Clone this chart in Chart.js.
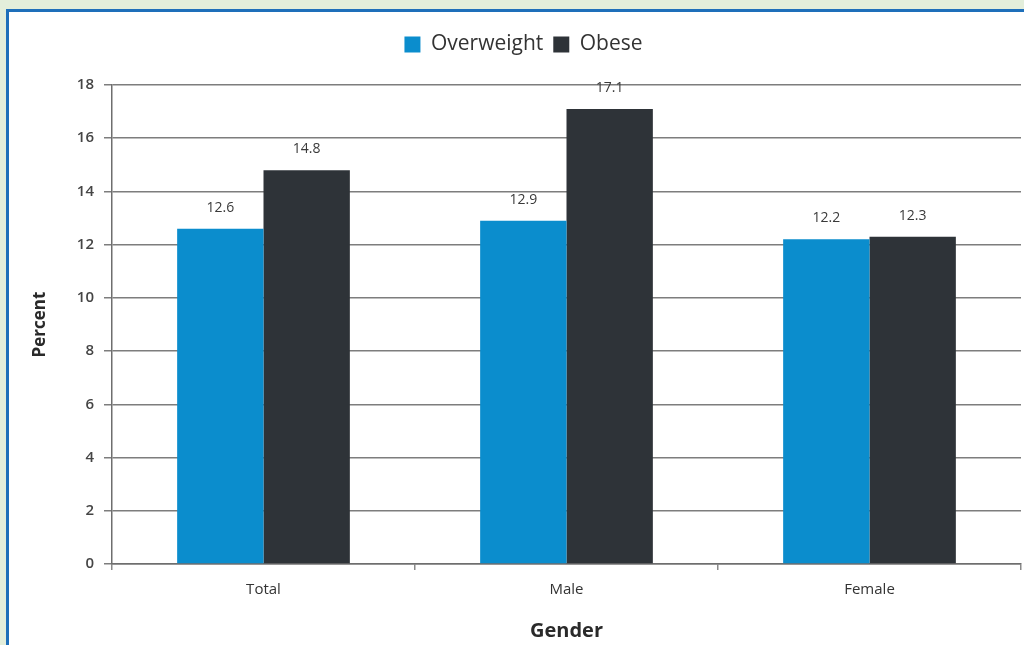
<!DOCTYPE html>
<html>
<head>
<meta charset="utf-8">
<script src="https://cdn.jsdelivr.net/npm/chart.js@4.4.1/dist/chart.umd.min.js"></script>
<style>
  html, body { margin: 0; padding: 0; }
  body { width: 1024px; height: 645px; background: #e3eedb; position: relative; overflow: hidden; }
  #frame { position: absolute; left: 6px; top: 9px; width: 1040px; height: 660px;
           background: #fff; border-left: 3px solid #1e6fba; border-top: 3px solid #1e6fba; }
  #wrap { position: absolute; left: 0; top: 0; width: 1024px; height: 645px; }
</style>
</head>
<body>
<div id="frame"></div>
<div id="wrap"><canvas id="myChart" width="1024" height="645"></canvas></div>
<script>
const categories = ['Total', 'Male', 'Female'];
const overweight = [12.6, 12.9, 12.2];
const obese = [14.8, 17.1, 12.3];
const yTicks = [0, 2, 4, 6, 8, 10, 12, 14, 16, 18];

const labelFont = '"Open Sans", "DejaVu Sans", sans-serif';

// value printed above every bar
const barValues = {
    id: 'barValues',
    afterDatasetsDraw(chart) {
        const c = chart.ctx;
        c.save();
        c.font = '14px ' + labelFont;
        c.fillStyle = '#3a3a3a';
        c.textAlign = 'center';
        c.textBaseline = 'middle';
        chart.data.datasets.forEach((ds, i) => {
            chart.getDatasetMeta(i).data.forEach((bar, j) => {
                c.fillText(ds.data[j].toFixed(1), bar.x, bar.y - 21);
            });
        });
        c.restore();
    }
};

const ctx = document.getElementById('myChart');
var myChart = new Chart(ctx, {
    type: 'bar',
    data: {
        labels: categories,
        datasets: [{
            label: 'Overweight',
            data: overweight,
            backgroundColor: '#0b8dcd'
        }, {
            label: 'Obese',
            data: obese,
            backgroundColor: '#2e3338'
        }]
    },
    options: {
        responsive: false,
        maintainAspectRatio: false,
        animation: false,
        layout: { padding: { left: 26, right: 3, top: 24, bottom: 0 } },
        datasets: { bar: { categoryPercentage: 0.57, barPercentage: 1 } },
        plugins: {
            tooltip: { enabled: false },
            legend: {
                position: 'top',
                labels: {
                    font: { size: 21, family: labelFont },
                    color: '#333',
                    boxWidth: 16,
                    boxHeight: 16,
                    padding: 10
                }
            }
        },
        scales: {
            // empty band between legend and plot
            gap: {
                type: 'category',
                position: 'top',
                labels: categories,
                grid: { display: false, drawTicks: false },
                border: { display: false },
                ticks: { display: false },
                afterFit(s) { s.height = 20; }
            },
            x: {
                grid: { drawOnChartArea: false, offset: true, tickLength: 6, color: '#8a8a8a', lineWidth: 1.5 },
                border: { color: '#6e6e6e', width: 1.5 },
                ticks: { font: { size: 15, family: labelFont }, color: '#333', padding: 11 },
                title: {
                    display: true,
                    text: 'Gender',
                    font: { size: 20, weight: 'bold', family: labelFont },
                    color: '#2a2a2a',
                    padding: { top: 0, bottom: 2 }
                },
                afterFit(s) { s.height = 81; }
            },
            y: {
                min: 0,
                max: 18,
                afterBuildTicks(s) { s.ticks = yTicks.map(v => ({ value: v })); },
                grid: { color: '#7d7d7d', lineWidth: 1.5, tickLength: 8 },
                border: { color: '#6e6e6e', width: 1.5 },
                ticks: { font: { size: 15, weight: '600', family: labelFont }, color: '#454545', padding: 10 },
                title: {
                    display: true,
                    text: 'Percent',
                    font: { size: 17, weight: 'bold', family: labelFont },
                    color: '#2a2a2a',
                    padding: { top: 4, bottom: 0 }
                },
                afterFit(s) { s.width = 86; }
            }
        }
    },
    plugins: [barValues]
});
</script>
</body>
</html>
